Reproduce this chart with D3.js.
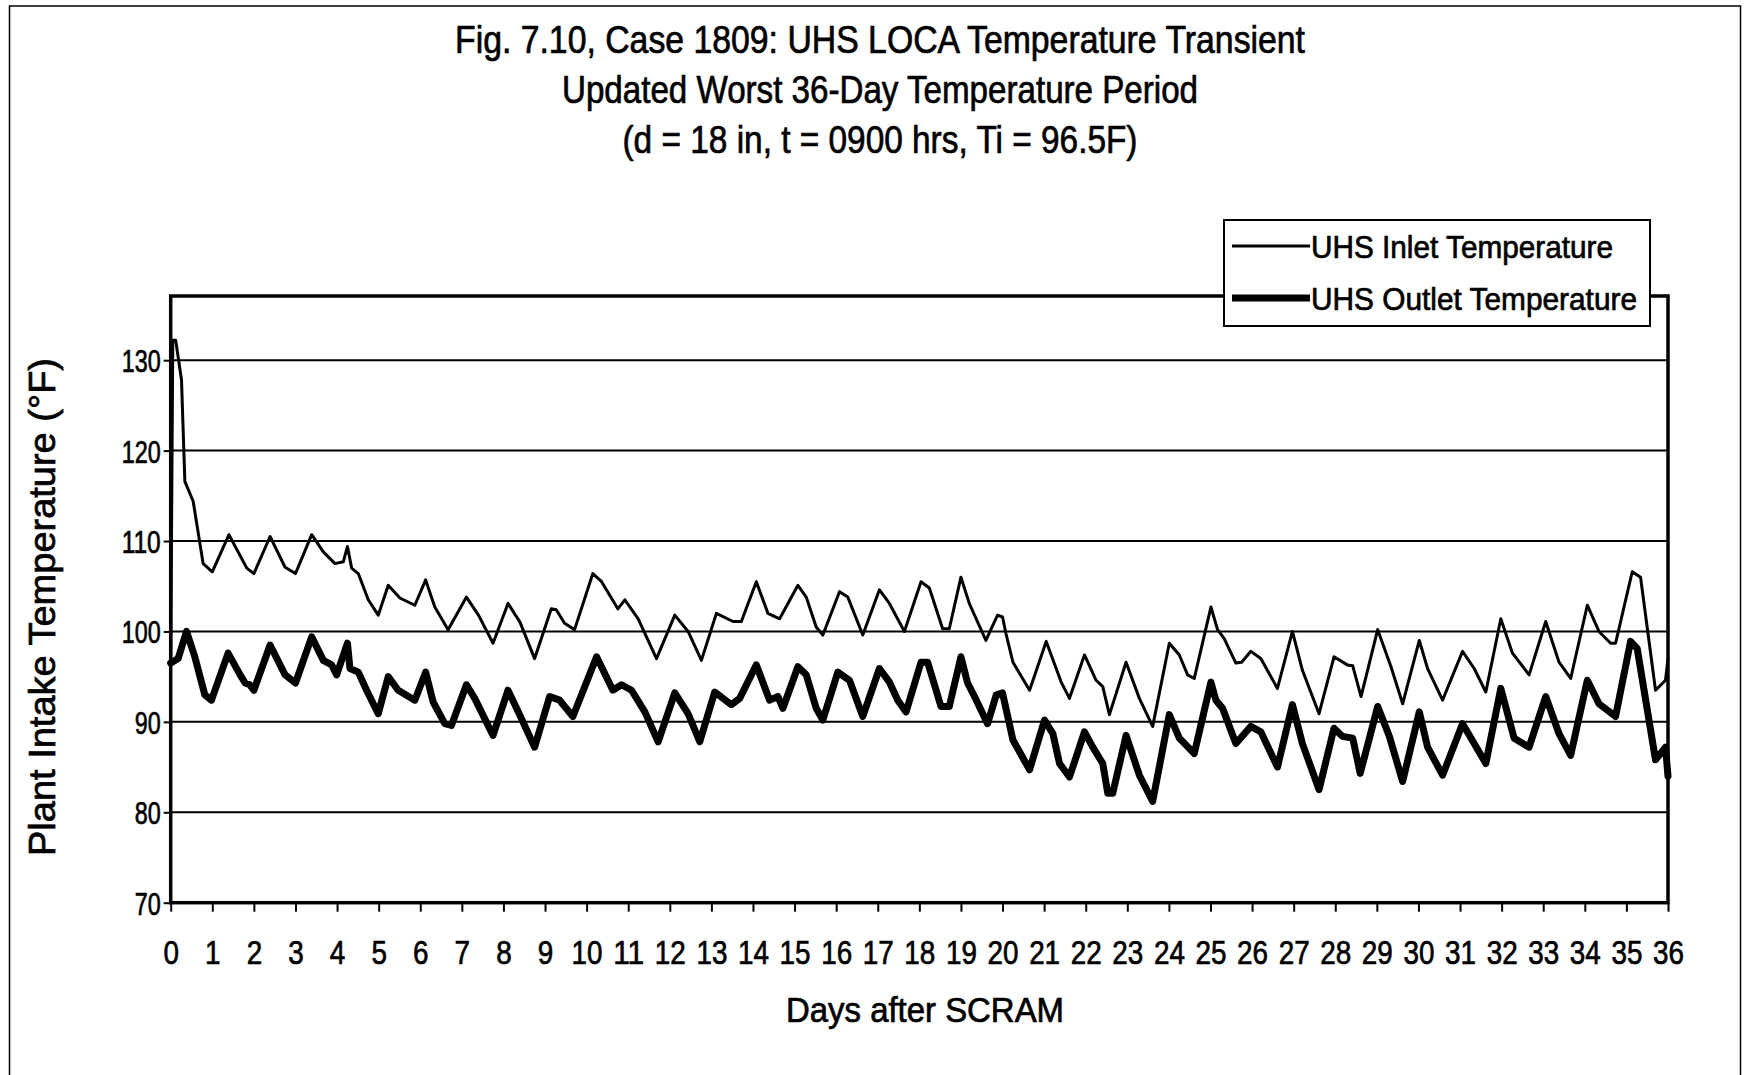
<!DOCTYPE html>
<html lang="en">
<head>
<meta charset="UTF-8">
<title>UHS LOCA Temperature Transient</title>
<script src="https://d3js.org/d3.v7.min.js"></script>
<style>
  body { margin: 0; background: #fff; }
  svg text { font-family: "Liberation Sans", Arial, sans-serif; fill: #000; stroke: #000; stroke-width: 0.7; }
</style>
</head>
<body>
<div id="chart"></div>
<script>
// data (days after SCRAM, deg F)
const inletDays = [0, 0.05, 0.12, 0.26, 0.34, 0.54, 0.78, 1.0, 1.4, 1.83, 2.0, 2.39, 2.75, 3.0, 3.39, 3.67, 3.95, 4.15, 4.25, 4.35,
  4.51, 4.75, 4.99, 5.23, 5.51, 5.87, 6.13, 6.35, 6.67, 7.11, 7.4, 7.75, 8.11, 8.4, 8.75, 9.15, 9.27, 9.47, 9.71, 10.15,
  10.36, 10.75, 10.92, 11.24, 11.68, 12.12, 12.44, 12.76, 13.12, 13.52, 13.72, 14.08, 14.36, 14.64, 15.08, 15.28, 15.52, 15.68, 16.08, 16.28,
  16.64, 17.04, 17.28, 17.64, 18.04, 18.24, 18.56, 18.72, 19.0, 19.2, 19.6, 19.88, 20.0, 20.08, 20.25, 20.65, 21.05, 21.41, 21.61, 21.97,
  22.25, 22.41, 22.57, 22.97, 23.29, 23.61, 24.01, 24.25, 24.45, 24.61, 25.01, 25.17, 25.33, 25.61, 25.75, 25.97, 26.21, 26.61, 26.97, 27.21,
  27.61, 27.97, 28.29, 28.42, 28.62, 29.02, 29.34, 29.62, 30.02, 30.22, 30.58, 31.06, 31.34, 31.62, 31.98, 32.26, 32.66, 33.06, 33.38, 33.66,
  34.06, 34.34, 34.62, 34.74, 35.14, 35.34, 35.7, 35.94, 36.0];
const inletTemps = [96.5, 132.2, 132.2, 127.8, 116.6, 114.4, 107.5, 106.6, 110.7, 107.0, 106.4, 110.5, 107.1, 106.4, 110.7, 108.8, 107.5, 107.7, 109.4, 107.0,
  106.4, 103.5, 101.8, 105.1, 103.7, 102.9, 105.7, 102.7, 100.2, 103.8, 101.8, 98.7, 103.1, 101.0, 97.0, 102.5, 102.4, 100.9, 100.2, 106.4,
  105.5, 102.5, 103.5, 101.4, 97.0, 101.8, 100.0, 96.8, 102.0, 101.1, 101.1, 105.5, 102.0, 101.4, 105.1, 103.8, 100.5, 99.6, 104.4, 103.8,
  99.6, 104.6, 103.1, 100.0, 105.5, 104.8, 100.3, 100.3, 106.0, 103.1, 99.0, 101.8, 101.6, 99.8, 96.6, 93.5, 98.9, 94.4, 92.6, 97.4,
  94.6, 93.9, 90.8, 96.6, 92.6, 89.5, 98.7, 97.4, 95.2, 94.8, 102.7, 100.2, 99.2, 96.5, 96.6, 97.8, 97.0, 93.7, 100.0, 95.7,
  90.9, 97.2, 96.3, 96.2, 92.8, 100.2, 96.1, 92.0, 99.0, 95.9, 92.4, 97.8, 95.9, 93.3, 101.4, 97.6, 95.2, 101.1, 96.6, 94.8,
  102.9, 100.0, 98.7, 98.7, 106.6, 106.0, 93.5, 94.6, 97.0];

const outletDays = [0, 0.18, 0.38, 0.58, 0.82, 0.98, 1.38, 1.67, 1.79, 1.9, 2.0, 2.39, 2.75, 3.0, 3.39, 3.67, 3.87, 3.99, 4.25, 4.31,
  4.51, 4.71, 4.99, 5.23, 5.47, 5.87, 6.13, 6.31, 6.59, 6.75, 7.11, 7.31, 7.75, 8.11, 8.39, 8.75, 9.11, 9.35, 9.67, 10.24,
  10.63, 10.84, 11.08, 11.4, 11.72, 12.12, 12.44, 12.72, 13.08, 13.48, 13.68, 14.08, 14.4, 14.6, 14.72, 15.08, 15.28, 15.52, 15.68, 16.04,
  16.32, 16.64, 17.04, 17.28, 17.48, 17.68, 18.04, 18.2, 18.52, 18.72, 19.0, 19.16, 19.37, 19.64, 19.85, 20.0, 20.25, 20.65, 21.01, 21.21,
  21.37, 21.61, 21.97, 22.17, 22.41, 22.53, 22.65, 22.97, 23.29, 23.61, 24.01, 24.25, 24.61, 25.01, 25.13, 25.29, 25.61, 25.97, 26.21, 26.61,
  26.97, 27.21, 27.61, 27.97, 28.17, 28.42, 28.6, 29.02, 29.3, 29.62, 30.02, 30.22, 30.58, 31.06, 31.34, 31.62, 31.98, 32.3, 32.66, 33.06,
  33.38, 33.66, 34.06, 34.34, 34.74, 35.1, 35.26, 35.7, 35.94, 36.0];
const outletTemps = [96.5, 97.0, 100.0, 97.2, 93.0, 92.4, 97.6, 95.2, 94.3, 94.1, 93.5, 98.5, 95.2, 94.3, 99.4, 96.8, 96.3, 95.2, 98.7, 95.9,
  95.5, 93.5, 90.9, 95.0, 93.5, 92.4, 95.5, 92.2, 89.8, 89.6, 94.1, 92.6, 88.5, 93.5, 90.8, 87.2, 92.8, 92.4, 90.6, 97.2,
  93.5, 94.1, 93.5, 91.1, 87.8, 93.2, 90.9, 87.8, 93.3, 91.9, 92.6, 96.3, 92.4, 92.8, 91.5, 96.1, 95.2, 91.5, 90.2, 95.5,
  94.6, 90.6, 95.9, 94.4, 92.4, 91.1, 96.6, 96.6, 91.7, 91.7, 97.2, 94.3, 92.4, 89.8, 93.0, 93.2, 88.0, 84.7, 90.2, 88.7,
  85.4, 83.9, 88.9, 87.2, 85.4, 82.1, 82.1, 88.5, 84.1, 81.2, 90.8, 88.2, 86.5, 94.4, 92.4, 91.5, 87.6, 89.5, 88.9, 85.0,
  91.9, 87.6, 82.5, 89.3, 88.4, 88.2, 84.3, 91.7, 88.4, 83.4, 91.1, 87.2, 84.1, 89.8, 87.6, 85.4, 93.7, 88.2, 87.2, 92.8,
  88.7, 86.3, 94.6, 92.0, 90.6, 98.9, 98.1, 85.8, 87.2, 84.0];

const xTicks = d3.range(0, 37);
const yTicks = [70, 80, 90, 100, 110, 120, 130];
const titleLines = [
  "Fig. 7.10, Case 1809:  UHS LOCA Temperature Transient",
  "Updated Worst 36-Day Temperature Period",
  "(d = 18 in, t = 0900 hrs, Ti = 96.5F)"
];
const seriesNames = ["UHS Inlet Temperature", "UHS Outlet Temperature"];

const width = 1748, height = 1075;
const plot = {left: 170.7, right: 1668, top: 296, bottom: 902.7};

const svg = d3.select("#chart").append("svg")
  .attr("width", width)
  .attr("height", height);

svg.append("rect").attr("width", width).attr("height", height).attr("fill", "#fff");

// outer frame of the figure
svg.append("rect")
  .attr("x", 9.5).attr("y", 6)
  .attr("width", 1731).attr("height", 1100)
  .attr("fill", "none").attr("stroke", "#000").attr("stroke-width", 1.5);

const x = d3.scaleLinear().domain([0, 36]).range([plot.left, plot.right]);
const y = d3.scaleLinear().domain([70, 137.1]).range([plot.bottom, plot.top]);

// gridlines
svg.append("g")
  .selectAll("line")
  .data(yTicks.slice(1))
  .join("line")
  .attr("x1", plot.left).attr("x2", plot.right)
  .attr("y1", d => y(d)).attr("y2", d => y(d))
  .attr("stroke", "#000").attr("stroke-width", 2);

// axes
const yAxis = svg.append("g")
  .attr("transform", `translate(${plot.left},0)`)
  .call(d3.axisLeft(y).tickValues(yTicks).tickSize(7).tickPadding(3).tickSizeOuter(0));
yAxis.select(".domain").remove();
yAxis.selectAll(".tick line").attr("stroke", "#000").attr("stroke-width", 2);
yAxis.selectAll(".tick text")
  .attr("font-size", 32)
  .attr("dy", "0.36em")
  .attr("textLength", d => String(d).length * 13)
  .attr("lengthAdjust", "spacingAndGlyphs");

const xAxis = svg.append("g")
  .attr("transform", `translate(0,${plot.bottom})`)
  .call(d3.axisBottom(x).tickValues(xTicks).tickSize(9).tickPadding(40).tickSizeOuter(0));
xAxis.select(".domain").remove();
xAxis.selectAll(".tick line").attr("stroke", "#000").attr("stroke-width", 2);
xAxis.selectAll(".tick text")
  .attr("font-size", 34)
  .attr("dy", "0.36em")
  .attr("textLength", d => String(d).length * 15.5)
  .attr("lengthAdjust", "spacingAndGlyphs");

// plot frame
svg.append("rect")
  .attr("x", plot.left).attr("y", plot.top)
  .attr("width", plot.right - plot.left).attr("height", plot.bottom - plot.top)
  .attr("fill", "none").attr("stroke", "#000").attr("stroke-width", 3.5);

// series
const line = d3.line().x(d => x(d[0])).y(d => y(d[1]));
const inlet = d3.zip(inletDays, inletTemps);
const outlet = d3.zip(outletDays, outletTemps);

svg.append("path")
  .attr("d", line(outlet))
  .attr("fill", "none").attr("stroke", "#000").attr("stroke-width", 7)
  .attr("stroke-linejoin", "round").attr("stroke-linecap", "round");

svg.append("path")
  .attr("d", line(inlet))
  .attr("fill", "none").attr("stroke", "#000").attr("stroke-width", 3)
  .attr("stroke-linejoin", "round").attr("stroke-linecap", "round");

// title
const titleY = [53, 103, 153];
const titleLen = [850, 636, 515];
svg.append("g")
  .selectAll("text")
  .data(titleLines)
  .join("text")
  .attr("x", 880)
  .attr("y", (d, i) => titleY[i])
  .attr("text-anchor", "middle")
  .attr("font-size", 38)
  .attr("textLength", (d, i) => titleLen[i])
  .attr("lengthAdjust", "spacingAndGlyphs")
  .text(d => d);

// axis titles
svg.append("text")
  .attr("x", 925).attr("y", 1022)
  .attr("text-anchor", "middle")
  .attr("font-size", 35)
  .attr("textLength", 278)
  .attr("lengthAdjust", "spacingAndGlyphs")
  .text("Days after SCRAM");

svg.append("text")
  .attr("transform", "translate(55,607) rotate(-90)")
  .attr("text-anchor", "middle")
  .attr("font-size", 37)
  .attr("textLength", 498)
  .attr("lengthAdjust", "spacingAndGlyphs")
  .text("Plant Intake Temperature (\u00B0F)");

// legend
const legend = svg.append("g");
legend.append("rect")
  .attr("x", 1224).attr("y", 220)
  .attr("width", 426).attr("height", 106)
  .attr("fill", "#fff").attr("stroke", "#000").attr("stroke-width", 2);

const legendY = [246, 298];
const legendW = [3, 7];
const legendLen = [302, 326];
legend.selectAll("line")
  .data(seriesNames)
  .join("line")
  .attr("x1", 1232).attr("x2", 1310)
  .attr("y1", (d, i) => legendY[i]).attr("y2", (d, i) => legendY[i])
  .attr("stroke", "#000").attr("stroke-width", (d, i) => legendW[i]);
legend.selectAll("text")
  .data(seriesNames)
  .join("text")
  .attr("x", 1311)
  .attr("y", (d, i) => legendY[i] + 12)
  .attr("font-size", 32)
  .attr("textLength", (d, i) => legendLen[i])
  .attr("lengthAdjust", "spacingAndGlyphs")
  .text(d => d);
</script>
</body>
</html>
